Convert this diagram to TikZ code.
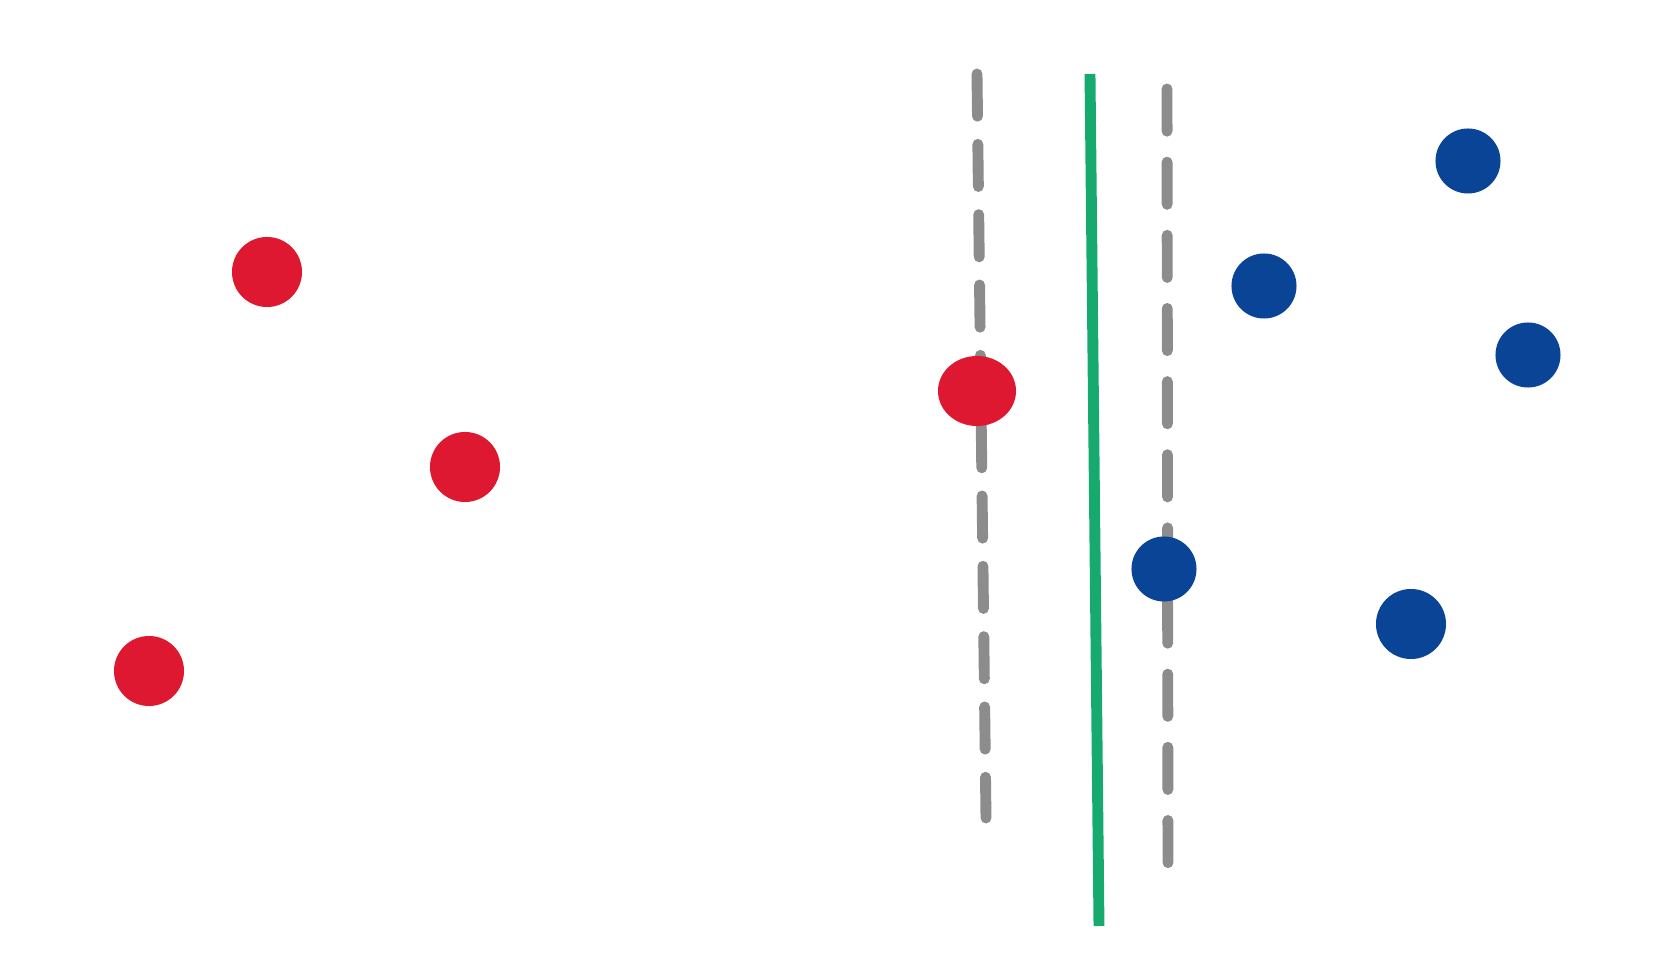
\documentclass[tikz,border=0pt]{standalone}
\usetikzlibrary{shapes.geometric}
\definecolor{dotred}{RGB}{222,24,48}
\definecolor{dotblue}{RGB}{10,68,150}
\definecolor{hypgreen}{RGB}{22,170,110}
\definecolor{margray}{RGB}{140,140,140}
\begin{document}
\begin{tikzpicture}[x=0.01cm,y=-0.01cm,
   every node/.style={circle,inner sep=0pt},
   red dot/.style={fill=dotred,minimum size=0.7cm},
   blue dot/.style={fill=dotblue,minimum size=0.65cm},
   margin line/.style={margray,line width=3.1pt,line cap=round,dash pattern=on 12pt off 8pt},
   hyper line/.style={hypgreen,line width=3.1pt}]

\useasboundingbox (0,0) rectangle (1656,961);

\coordinate (ml top) at (977,74);
\coordinate (ml bot) at (986,818);
\coordinate (h top) at (1090,74);
\coordinate (h bot) at (1099,926);
\coordinate (mr top) at (1167,89);
\coordinate (mr bot) at (1168,866);

\draw[margin line] (ml top) -- (ml bot);
\draw[hyper line] (h top) -- (h bot);
\draw[margin line,dash pattern=on 12pt off 8.8pt] (mr top) -- (mr bot);

\node[red dot] (r1) at (267,272) {};
\node[red dot] (r2) at (465,467) {};
\node[red dot] (r3) at (149,671) {};
\node[red dot,ellipse,minimum width=0.78cm,minimum height=0.7cm] (r4) at (977,391) {};

\node[blue dot] (b1) at (1468,161) {};
\node[blue dot] (b2) at (1264,286) {};
\node[blue dot] (b3) at (1528,355) {};
\node[blue dot] (b4) at (1164,569) {};
\node[blue dot,minimum size=0.7cm] (b5) at (1411,624) {};

\end{tikzpicture}
\end{document}
